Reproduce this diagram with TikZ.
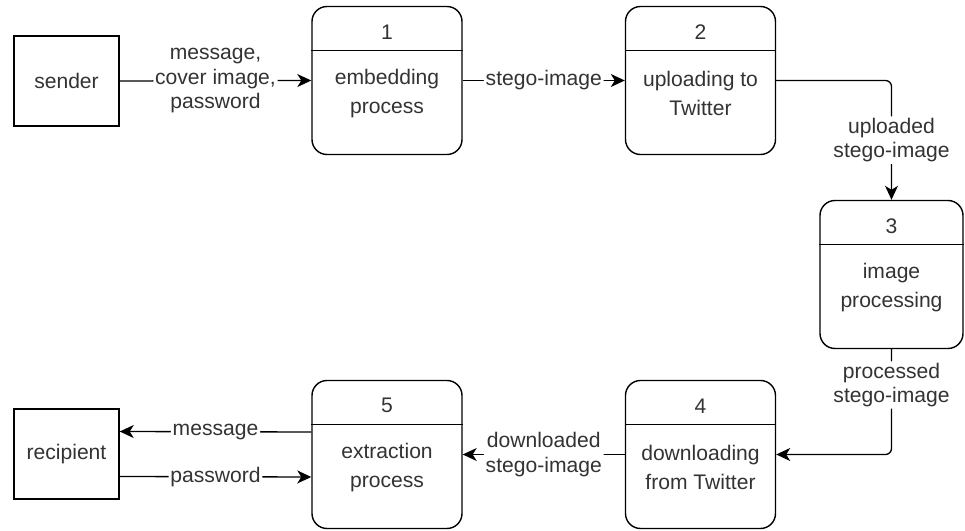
\documentclass[tikz,border=0pt]{standalone}
\usepackage{fontspec}
\setmainfont{Liberation Sans}
\usetikzlibrary{arrows.meta, calc}

\begin{document}
\begin{tikzpicture}[
        font=\fontsize{12}{13.8}\selectfont, text=black!80,
        extbox/.style={draw, line width=0.8pt, minimum width=2.1cm, minimum height=1.8cm},
        procbox/.style={draw, line width=0.8pt, rounded corners=0.3cm, minimum width=3cm, minimum height=2.96cm},
        boxtext/.style={align=center, font=\fontsize{12}{16.2}\selectfont},
        flow/.style={-{Stealth[length=2.8mm,width=2.6mm,inset=0.8mm]}, line width=0.75pt, rounded corners=0.12cm},
        flowlabel/.style={fill=white, inner sep=1pt, align=center}
    ]
        \useasboundingbox (0,0) rectangle (19.3,10.62);

        % Draw sender and recipient
        \node[extbox] (sender) at (1.33,9.0) {sender};
        \node[extbox] (recipient) at (1.33,1.54) {recipient};

        % Draw process boxes
        \node[procbox] (p1) at (7.74,9.01) {};
        \node[procbox] (p2) at (14.01,9.01) {};
        \node[procbox, minimum width=2.86cm] (p3) at (17.83,5.13) {};
        \node[procbox] (p4) at (14.01,1.53) {};
        \node[procbox] (p5) at (7.74,1.53) {};

        % Numbers, dividers and texts
        \foreach \n/\txt in {1/{embedding\\process}, 2/{uploading to\\Twitter},
                3/{image\\processing}, 4/{downloading\\from Twitter}, 5/{extraction\\process}} {
            \node (n\n) at ([yshift=-0.52cm]p\n.north) {\n};
            \draw[line width=0.8pt] ([yshift=-0.9cm]p\n.north west) -- ([yshift=-0.9cm]p\n.north east);
            \node[boxtext] (t\n) at ([yshift=-0.26cm]p\n.center) {\txt};
        }

        % Add arrows between them
        \draw[flow] (sender.east) -- node[flowlabel] (l1) {message,\\cover image,\\password} (p1.west);
        \draw[flow] (p1.east) -- node[flowlabel] (l2) {stego-image} (p2.west);
        \draw[flow] (p2.east) -| node[flowlabel, pos=0.75] (l3) {uploaded\\stego-image} (p3.north);
        \draw[flow] (p3.south) |- node[flowlabel, pos=0.17] (l4) {processed\\stego-image} (p4.east);
        \draw[flow] (p4.west) -- node[flowlabel] (l5) {downloaded\\stego-image} (p5.east);
        \draw[flow] ([yshift=0.45cm]p5.west) -- node[flowlabel] (l6) {message} ([yshift=0.45cm]recipient.east);
        \draw[flow] ([yshift=-0.45cm]recipient.east) -- node[flowlabel] (l7) {password} ([yshift=-0.45cm]p5.west);
\end{tikzpicture}
\end{document}
